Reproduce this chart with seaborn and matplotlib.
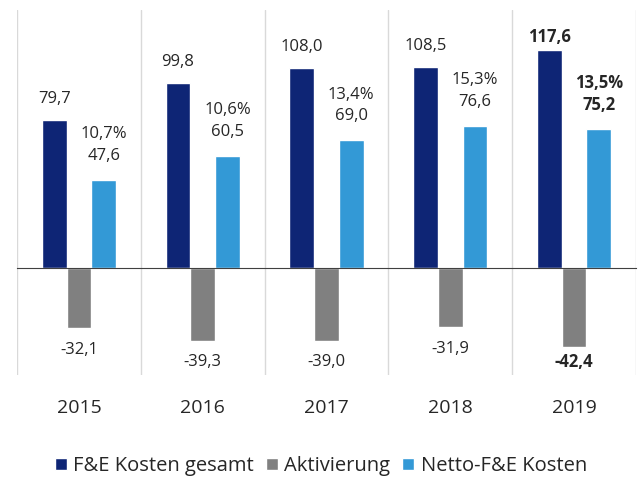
import pandas as pd
import matplotlib.pyplot as plt
import seaborn as sns
from matplotlib.transforms import blended_transform_factory

years = ["2015", "2016", "2017", "2018", "2019"]
gesamt = [79.7, 99.8, 108.0, 108.5, 117.6]
aktivierung = [-32.1, -39.3, -39.0, -31.9, -42.4]
netto = [47.6, 60.5, 69.0, 76.6, 75.2]
quote = [10.7, 10.6, 13.4, 15.3, 13.5]

series = ["F&E Kosten gesamt", "Aktivierung", "Netto-F&E Kosten"]
colors = ["#0E2575", "#808080", "#3399D6"]


def de(v):
    return f"{v:.1f}".replace(".", ",")


df = pd.DataFrame({
    "Jahr": years * 3,
    "Wert": gesamt + aktivierung + netto,
    "Serie": [s for s in series for _ in years],
})

sns.set_style("white")
plt.rcParams["font.family"] = ["Open Sans", "DejaVu Sans"]

fig = plt.figure(figsize=(6.42, 4.79), dpi=100)
ax = fig.add_axes([0.0265, 0.217, 0.964, 0.762])
sns.barplot(data=df, x="Jahr", y="Wert", hue="Serie", palette=colors,
            width=0.6, saturation=1, ax=ax, legend=True)

ax.set_xlim(-0.5, len(years) - 0.5)
ax.set_ylim(-57.6, 139)
ax.set_xlabel("")
ax.set_ylabel("")
ax.set_yticks([])
ax.set_xticks(range(len(years)))
ax.set_xticklabels([])
ax.tick_params(axis="x", which="major", length=0)
ax.set_xticks([i - 0.5 for i in range(len(years) + 1)], minor=True)
ax.tick_params(axis="x", which="minor", length=4, direction="out",
               color="#404040", width=1)

for s in ["top", "left", "right"]:
    ax.spines[s].set_visible(False)
ax.spines["bottom"].set_position(("data", 0))
ax.spines["bottom"].set_color("#404040")
for b in range(len(years) + 1):
    ax.axvline(b - 0.5, color="#D9D9D9", lw=1, zorder=0)

last = len(years) - 1
for k, cont in enumerate(ax.containers):
    for i, bar in enumerate(cont):
        x = bar.get_x() + bar.get_width() / 2
        v = bar.get_height()
        fw = "bold" if i == last else "normal"
        if k == 0:
            ax.text(x, min(v + 11.3, 124.4), de(v), ha="center", va="center",
                    fontsize=12, fontweight=fw)
        elif k == 1:
            ax.text(x, max(v - 11.8, -50.6), de(v), ha="center", va="center",
                    fontsize=12, fontweight=fw)
        else:
            ax.text(x, v + 12.9, de(v), ha="center", va="center",
                    fontsize=12, fontweight=fw)
            ax.text(x, v + 24.5, de(quote[i]) + "%", ha="center", va="center",
                    fontsize=12, fontweight=fw)

trans = blended_transform_factory(ax.transData, ax.transAxes)
for i, y in enumerate(years):
    ax.text(i, -0.09, y, transform=trans, ha="center", va="center", fontsize=14)

handles, labels = ax.get_legend_handles_labels()
ax.get_legend().remove()
fig.legend(handles, labels, loc="center", bbox_to_anchor=(0.5, 0.027),
           ncol=3, frameon=False, fontsize=14.5, handlelength=0.6,
           handleheight=0.6, handletextpad=0.3, columnspacing=0.6)

fig.savefig("out.png", dpi=100)
